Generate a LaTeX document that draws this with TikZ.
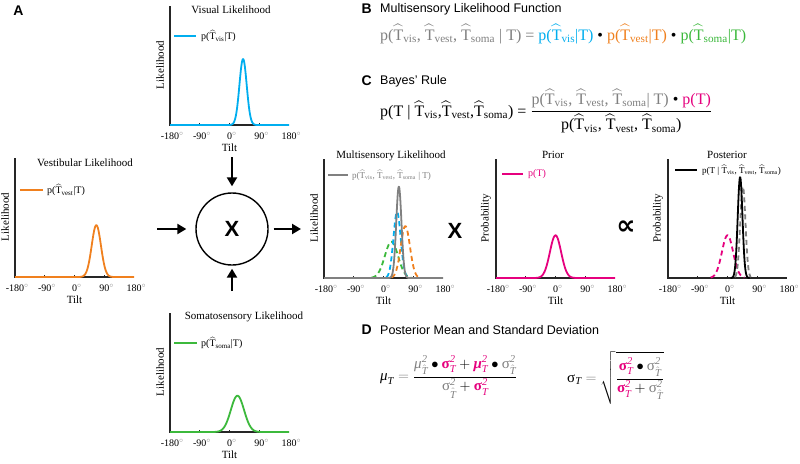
\documentclass[tikz,border=0pt]{standalone}
\usepackage{fontspec}
\usepackage{amsmath}
\setmainfont{Liberation Serif}
\setsansfont{Liberation Sans}
\setmathrm{Liberation Serif}
\newfontfamily\symfont{DejaVu Sans}
\usetikzlibrary{arrows.meta,positioning}

\definecolor{visblue}{RGB}{0,174,239}
\definecolor{vestorange}{RGB}{240,128,30}
\definecolor{somagreen}{RGB}{60,185,60}
\definecolor{priormag}{RGB}{230,0,126}
\definecolor{multigray}{RGB}{128,128,128}

% gaussian scaled to pixel height
\pgfmathdeclarefunction{gauss}{3}{\pgfmathparse{726/#3*exp(-((#1-#2)^2)/(2*#3*#3))}}

\newcommand\pxfont[1]{\fontsize{#1}{#1}\selectfont}
\newcommand\hT[1]{$\widehat{\mathrm{T}}_{\mathrm{#1}}$}
\newcommand\hatsub{\lower2pt\hbox{$\scriptstyle\hat{\mathit{T}}$}}
\newcommand\sigP{{\color{priormag}\text{\textbf{σ}}^{\mathit{2}}_{\mathit{T}}}}
\newcommand\sigL{{\color{gray}\text{σ}^{\mathit{2}}_{\hatsub}}}
\newcommand\muP{{\color{priormag}\text{\textbf{\textit{μ}}}^{\mathit{2}}_{\mathit{T}}}}
\newcommand\muL{{\color{gray}\text{\textit{μ}}^{\mathit{2}}_{\hatsub}}}

\begin{document}
\begin{tikzpicture}[x=1pt,y=-1pt,
  axis/.style={line width=1.4pt,black!85},
  curve/.style={line width=1.8pt,line join=round},
  dcurve/.style={line width=1.8pt,dash pattern=on 5pt off 3.5pt},
  ttl/.style={font=\pxfont{11},inner sep=0pt},
  tick/.style={font=\pxfont{10},inner sep=0pt},
  leg/.style={font=\pxfont{10},inner sep=0pt,anchor=west},
  head/.style={font=\sffamily\pxfont{12.5},inner sep=0pt,anchor=west},
  letter/.style={font=\sffamily\bfseries\pxfont{14},inner sep=0pt},
  eqn/.style={font=\pxfont{16},inner sep=0pt,anchor=west},
  arr/.style={line width=2.2pt,-{Triangle[length=9pt,width=10pt]}},
  bigsym/.style={font=\sffamily\bfseries\pxfont{22},inner sep=0pt}]
\path[use as bounding box,fill=white] (0,0) rectangle (800,463);

% axes of the six panels
\foreach \ox/\oy/\nm/\ylab in {170/125/vis/Likelihood,15/277/vest/Likelihood,170/432/soma/Likelihood,324/278/multi/Likelihood,496/278/prior/Probability,668/278/post/Probability}{
  \begin{scope}[shift={(\ox,\oy)}]
    \draw[axis] (0,-119) -- (0,0) -- (119,0);
    \foreach \i in {1,2,3} \draw[axis] (\i*29.75,0) -- (\i*29.75,-2.5);
    \foreach \tk [count=\i from 0] in {-180,-90,0,90,180}
      \node[tick] (\nm-t\i) at (\i*29.75,11) {\tk\rlap{\color{gray}$^{\circ}$}};
    \node[ttl] (\nm-tilt) at (59.5,23) {Tilt};
    \node[ttl,rotate=90] (\nm-ylab) at (-10,-60) {\ylab};
  \end{scope}
}

% titles
\node[ttl] (vis-title) at (231,10) {Visual Likelihood};
\node[ttl] (vest-title) at (85,163) {Vestibular Likelihood};
\node[ttl] (soma-title) at (244,317) {Somatosensory Likelihood};
\node[ttl] (multi-title) at (391,156) {Multisensory Likelihood};
\node[ttl] (prior-title) at (553,155) {Prior};
\node[ttl] (post-title) at (727,155) {Posterior};

% legends
\draw[curve,visblue] (174,36) -- (196,36);
\node[leg] (vis-leg) at (201,36) {p(\hT{vis}|T)};
\draw[curve,vestorange] (20,190) -- (43,190);
\node[leg] (vest-leg) at (47,190) {p(\hT{vest}|T)};
\draw[curve,somagreen] (174,343) -- (197,343);
\node[leg] (soma-leg) at (201,343) {p(\hT{soma}|T)};
\draw[curve,multigray] (328,175) -- (348,175);
\node[leg,font=\pxfont{9},text=multigray] (multi-leg) at (352,175) {p(\hT{vis}, \hT{vest}, \hT{soma} | T)};
\draw[curve,priormag] (502,174) -- (523,174);
\node[leg,text=priormag] (prior-leg) at (528,174) {p(T)};
\draw[curve,black] (675,170) -- (697,170);
\node[leg,font=\pxfont{9}] (post-leg) at (702,170) {p(T | \hT{vis}, \hT{vest}, \hT{soma})};

% curves
\begin{scope}[shift={(170,125)}]
  \draw[curve,visblue] (0,0) -- plot[domain=-3:85,samples=60] ({(\x+180)*0.3306},{-gauss(\x,41,11)}) -- (119,0);
\end{scope}
\begin{scope}[shift={(15,277)}]
  \draw[curve,vestorange] (0,0) -- plot[domain=10:122,samples=60] ({(\x+180)*0.3306},{-gauss(\x,66,14)}) -- (119,0);
\end{scope}
\begin{scope}[shift={(170,432)}]
  \draw[curve,somagreen] (0,0) -- plot[domain=-56:104,samples=60] ({(\x+180)*0.3306},{-gauss(\x,24,20)}) -- (119,0);
\end{scope}
\begin{scope}[shift={(324,278)}]
  \draw[dcurve,somagreen] plot[domain=-36:84,samples=60] ({(\x+180)*0.3306},{-gauss(\x,24,20)});
  \draw[dcurve,visblue] plot[domain=8:74,samples=60] ({(\x+180)*0.3306},{-gauss(\x,41,11)});
  \draw[dcurve,vestorange] plot[domain=24:108,samples=60] ({(\x+180)*0.3306},{-gauss(\x,66,14)});
  \draw[curve,multigray] (0,0) -- plot[domain=14.6:78.2,samples=60] ({(\x+180)*0.3306},{-gauss(\x,46.4,7.94)}) -- (119,0);
\end{scope}
\begin{scope}[shift={(496,278)}]
  \draw[curve,priormag] (0,0) -- plot[domain=-68:68,samples=60] ({(\x+180)*0.3306},{-gauss(\x,0,17)}) -- (119,0);
\end{scope}
\begin{scope}[shift={(668,278)}]
  \draw[dcurve,priormag] plot[domain=-51:51,samples=60] ({(\x+180)*0.3306},{-gauss(\x,0,17)});
  \draw[dcurve,multigray] plot[domain=22.6:70.2,samples=60] ({(\x+180)*0.3306},{-gauss(\x,46.4,7.94)});
  \draw[curve,black] plot[domain=9.3:66.8,samples=60] ({(\x+180)*0.3306},{-gauss(\x,38.06,7.19)});
\end{scope}

% combination
\node[draw,circle,line width=1.4pt,minimum size=72pt,inner sep=0pt,font=\sffamily\bfseries\pxfont{22}] (mult) at (232,229) {X};
\coordinate (visout) at (232,157);
\coordinate (vestout) at (157,229);
\coordinate (somaout) at (232,291);
\coordinate (multin) at (301,229);
\draw[arr,shorten >=6pt] (visout) -- (mult.north);
\draw[arr,shorten >=9pt] (vestout) -- (mult.west);
\draw[arr,shorten >=3pt] (somaout) -- (mult.south);
\draw[arr,shorten <=5pt] (mult.east) -- (multin);
\node[bigsym] (times) at (455,231) {X};
\node[font=\symfont\bfseries\pxfont{27},inner sep=0pt] (propto) at (626,228) {∝};

% panel letters and equations
\node[letter] (A) at (18.5,11) {A};
\node[head] (headB) at (380,9) {Multisensory Likelihood Function};
\node[letter,left=8pt of headB] (B) {B};
\node[eqn] (eqB) at (380,34) {{\color{gray}p(\hT{vis}, \hT{vest}, \hT{soma} | T) =} {\color{visblue}p(\hT{vis}|T)} \textbullet\ {\color{vestorange}p(\hT{vest}|T)} \textbullet\ {\color{somagreen}p(\hT{soma}|T)}};
\node[head] (headC) at (380,81) {Bayes' Rule};
\node[letter,left=8pt of headC] (C) {C};
\node[eqn] (eqC) at (380,111) {p(T | \hT{vis},\hT{vest},\hT{soma}) = $\dfrac{\text{\color{gray}p(\hT{vis}, \hT{vest}, \hT{soma}| T) {\color{black}\textbullet} {\color{priormag}p(T)}}}{\text{p(\hT{vis}, \hT{vest}, \hT{soma})}}$};
\node[head] (headD) at (380,330) {Posterior Mean and Standard Deviation};
\node[letter,left=8pt of headD] (D) {D};
\node[eqn,font=\pxfont{15}] (eqMu) at (380,377) {$\text{\textit{μ}}_{\mathit{T}} \mathrel{\color{gray}=} \dfrac{\muL \bullet \sigP + \muP \bullet \sigL}{\sigL + \sigP}$};
\node[eqn,font=\pxfont{15}] (eqSig) at (567,378) {$\text{σ}_{\mathit{T}} \mathrel{\color{gray}=} \sqrt{\dfrac{\sigP \bullet \sigL}{\sigP + \sigL}}$};
\end{tikzpicture}
\end{document}
